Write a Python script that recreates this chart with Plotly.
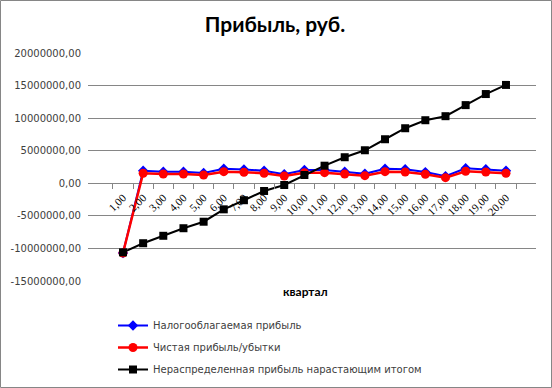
import plotly.graph_objects as go

quarters = ["1,00", "2,00", "3,00", "4,00", "5,00", "6,00", "7,00", "8,00", "9,00", "10,00",
            "11,00", "12,00", "13,00", "14,00", "15,00", "16,00", "17,00", "18,00", "19,00", "20,00"]
taxable = [-10.7e6, 1.93e6, 1.79e6, 1.79e6, 1.59e6, 2.22e6, 2.11e6, 1.93e6, 1.40e6, 2.04e6,
           2.04e6, 1.79e6, 1.46e6, 2.22e6, 2.17e6, 1.72e6, 1.08e6, 2.30e6, 2.17e6, 1.93e6]
net = [-10.7e6, 1.54e6, 1.43e6, 1.43e6, 1.27e6, 1.78e6, 1.69e6, 1.54e6, 1.12e6, 1.63e6,
       1.63e6, 1.43e6, 1.17e6, 1.78e6, 1.74e6, 1.38e6, 0.86e6, 1.84e6, 1.74e6, 1.54e6]
cumulative = [-10.6e6, -9.2e6, -8.06e6, -6.9e6, -5.9e6, -4.0e6, -2.6e6, -1.18e6, -0.26e6, 1.27e6,
              2.7e6, 4.0e6, 5.07e6, 6.76e6, 8.45e6, 9.68e6, 10.3e6, 12.0e6, 13.7e6, 15.1e6]
ytick_vals = [20e6, 15e6, 10e6, 5e6, 0, -5e6, -10e6, -15e6]
ytick_text = ["20000000,00", "15000000,00", "10000000,00", "5000000,00", "0,00",
              "-5000000,00", "-10000000,00", "-15000000,00"]

W, H = 552, 388
L, R, T, B = 88, 16, 53, 107
pw, ph = W - L - R, H - T - B

fig = go.Figure()
fig.add_trace(go.Scatter(x=quarters, y=taxable, mode="lines+markers",
                         name="Налогооблагаемая прибыль", legendgroup="a",
                         line=dict(color="#0000FF", width=2),
                         marker=dict(symbol="diamond", size=8, color="#0000FF")))
fig.add_trace(go.Scatter(x=quarters, y=net, mode="lines+markers",
                         name="Чистая прибыль/убытки", legendgroup="b",
                         line=dict(color="#FF0000", width=2.5),
                         marker=dict(symbol="circle", size=9, color="#FF0000")))
fig.add_trace(go.Scatter(x=quarters, y=cumulative, mode="lines+markers",
                         name="Нераспределенная прибыль нарастающим итогом", legendgroup="c",
                         line=dict(color="#000000", width=2),
                         marker=dict(symbol="square", size=8, color="#000000")))

ymin, ymax = -15e6, 20e6
fig.update_layout(
    template="none",
    width=W, height=H,
    margin=dict(l=L, r=R, t=T, b=B, autoexpand=False),
    paper_bgcolor="white", plot_bgcolor="white",
    title=dict(text="<b>Прибыль, руб.</b>", x=(275 - L) / pw, xref="paper", xanchor="center",
               y=1 - 25 / H, yanchor="middle",
               font=dict(family="Lato", size=21, color="#000000")),
    xaxis=dict(type="category", range=[-1.736, 20.49], anchor="free",
               position=(0 - ymin) / (ymax - ymin), showgrid=False, showline=False,
               zeroline=False, ticks="outside", tickson="boundaries", ticklen=5,
               tickcolor="#868686", tickwidth=1, tickangle=-45, automargin=False,
               ticklabelstandoff=5,
               tickfont=dict(family="Liberation Serif", size=11, color="#000000")),
    yaxis=dict(range=[ymin, ymax], tickvals=ytick_vals, ticktext=ytick_text,
               showgrid=True, gridcolor="#868686", gridwidth=1,
               zeroline=True, zerolinecolor="#868686", zerolinewidth=1,
               showline=False, ticks="", ticklabelstandoff=6, automargin=False,
               tickfont=dict(family="DejaVu Sans", size=10, color="#404040")),
    legend=dict(x=(113 - L) / pw, xanchor="left", y=(H - B - 311) / ph, yanchor="top",
                font=dict(family="DejaVu Sans", size=10, color="#404040"),
                tracegroupgap=3, bgcolor="rgba(0,0,0,0)", borderwidth=0),
    showlegend=True,
)

fig.add_annotation(text="<b>квартал</b>", x=(305 - L) / pw, y=(H - B - 291) / ph,
                   xref="paper", yref="paper", showarrow=False, xanchor="center", yanchor="middle",
                   font=dict(family="Lato", size=12, color="#000000"))

fig.add_shape(type="rect", xref="paper", yref="paper",
              x0=(0.5 - L) / pw, x1=(W - 0.5 - L) / pw,
              y0=(H - B - (H - 0.5)) / ph, y1=(H - B - 0.5) / ph,
              line=dict(color="#868686", width=1), fillcolor="rgba(0,0,0,0)", layer="above")

fig.write_html("out.html", config={"displayModeBar": False},
               post_script="document.body.style.margin='0';document.body.style.padding='0';")
